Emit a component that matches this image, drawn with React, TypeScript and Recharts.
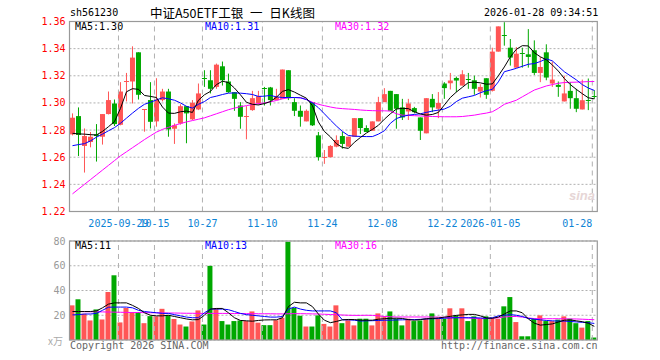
import React from 'react';
import { ComposedChart, Bar, Line, XAxis, YAxis, CartesianGrid, ReferenceLine, Cell } from 'recharts';

const dates = [
  '2025-09-17','2025-09-18','2025-09-19','2025-09-22','2025-09-23','2025-09-24','2025-09-25','2025-09-26','2025-09-29','2025-09-30',
  '2025-10-09','2025-10-10','2025-10-13','2025-10-14','2025-10-15','2025-10-16','2025-10-17','2025-10-20','2025-10-21','2025-10-22',
  '2025-10-23','2025-10-24','2025-10-27','2025-10-28','2025-10-29','2025-10-30','2025-10-31','2025-11-03','2025-11-04','2025-11-05',
  '2025-11-06','2025-11-07','2025-11-10','2025-11-11','2025-11-12','2025-11-13','2025-11-14','2025-11-17','2025-11-18','2025-11-19',
  '2025-11-20','2025-11-21','2025-11-24','2025-11-25','2025-11-26','2025-11-27','2025-11-28','2025-12-01','2025-12-02','2025-12-03',
  '2025-12-04','2025-12-05','2025-12-08','2025-12-09','2025-12-10','2025-12-11','2025-12-12','2025-12-15','2025-12-16','2025-12-17',
  '2025-12-18','2025-12-19','2025-12-22','2025-12-23','2025-12-24','2025-12-25','2025-12-26','2025-12-29','2025-12-30','2025-12-31',
  '2026-01-05','2026-01-06','2026-01-07','2026-01-08','2026-01-09','2026-01-12','2026-01-13','2026-01-14','2026-01-15','2026-01-16',
  '2026-01-19','2026-01-20','2026-01-21','2026-01-22','2026-01-23','2026-01-26','2026-01-27','2026-01-28'
];

const openP = [
  1.2768,1.2903,1.2683,1.2712,1.2768,1.2751,1.2918,1.2996,1.2839,1.3153,
  1.3158,1.3373,1.2948,1.3021,1.2864,1.3021,1.3084,1.2810,1.2849,1.2976,
  1.2879,1.2952,1.3182,1.3167,1.3118,1.3270,1.3158,1.3079,1.2981,1.2898,
  1.2947,1.2996,1.3111,1.3114,1.3021,1.3030,1.3241,1.3006,1.2942,1.2864,
  1.3006,1.2761,1.2598,1.2600,1.2678,1.2756,1.2678,1.2751,1.2888,1.2815,
  1.2795,1.2864,1.3006,1.3089,1.3065,1.2967,1.2937,1.2962,1.2893,1.2776,
  1.3030,1.2957,1.3143,1.3145,1.3184,1.3128,1.3180,1.3167,1.3084,1.3182,
  1.3089,1.3378,1.3497,1.3407,1.3260,1.3370,1.3358,1.3388,1.3221,1.3373,
  1.3143,1.3133,1.3011,1.3089,1.3035,1.2952,1.3025,1.3050
];
const highP = [
  1.2923,1.2967,1.2812,1.2786,1.2844,1.2918,1.3084,1.3025,1.3153,1.3221,
  1.3417,1.3373,1.2955,1.3153,1.3182,1.3104,1.3104,1.2849,1.2990,1.2976,
  1.3021,1.3143,1.3241,1.3241,1.3290,1.3305,1.3216,1.3079,1.3006,1.2976,
  1.3089,1.3089,1.3118,1.3118,1.3104,1.3246,1.3241,1.3035,1.2981,1.2952,
  1.3006,1.2786,1.2653,1.2690,1.2761,1.2786,1.2751,1.2888,1.2888,1.2835,
  1.2864,1.3045,1.3109,1.3089,1.3065,1.3030,1.3030,1.2971,1.2893,1.3035,
  1.3065,1.3080,1.3153,1.3221,1.3194,1.3241,1.3221,1.3201,1.3138,1.3182,
  1.3407,1.3564,1.3595,1.3471,1.3412,1.3407,1.3544,1.3461,1.3339,1.3432,
  1.3305,1.3158,1.3201,1.3153,1.3104,1.3172,1.3180,1.3094
];
const lowP = [
  1.2761,1.2609,1.2487,1.2673,1.2568,1.2693,1.2915,1.2830,1.2835,1.3011,
  1.2996,1.3025,1.2788,1.2812,1.2825,1.3011,1.2751,1.2698,1.2840,1.2703,
  1.2874,1.2947,1.3118,1.3070,1.3104,1.3128,1.3074,1.2942,1.2810,1.2732,
  1.2942,1.2986,1.2981,1.2981,1.3021,1.3030,1.3021,1.2903,1.2825,1.2864,
  1.2830,1.2575,1.2551,1.2600,1.2673,1.2663,1.2678,1.2751,1.2771,1.2786,
  1.2795,1.2864,1.3006,1.2940,1.2810,1.2874,1.2874,1.2923,1.2727,1.2776,
  1.2932,1.2888,1.3030,1.3099,1.3079,1.3128,1.3104,1.3060,1.3040,1.3030,
  1.3084,1.3378,1.3422,1.3275,1.3260,1.3260,1.3260,1.3206,1.3153,1.3167,
  1.3118,1.3045,1.3011,1.2957,1.2932,1.2952,1.2947,1.3030
];
const closeP = [
  1.2891,1.2764,1.2756,1.2751,1.2756,1.2918,1.3021,1.2844,1.3084,1.3158,
  1.3334,1.3060,1.2952,1.2861,1.3025,1.3084,1.2805,1.2835,1.2976,1.2923,
  1.3001,1.3070,1.3177,1.3104,1.3282,1.3167,1.3079,1.3030,1.2898,1.2903,
  1.3035,1.3050,1.3106,1.3021,1.3045,1.3246,1.3035,1.2942,1.2898,1.2942,
  1.2835,1.2600,1.2600,1.2683,1.2727,1.2698,1.2751,1.2888,1.2815,1.2786,
  1.2864,1.3006,1.3065,1.2942,1.2957,1.2893,1.2996,1.2932,1.2795,1.3035,
  1.2967,1.3000,1.3109,1.3165,1.3165,1.3211,1.3175,1.3104,1.3118,1.3060,
  1.3378,1.3564,1.3492,1.3334,1.3363,1.3368,1.3339,1.3221,1.3265,1.3187,
  1.3172,1.3118,1.3070,1.3035,1.2957,1.3020,1.3018,1.3045
];

const ma5 = [
  1.2776,1.2772,1.2770,1.2766,1.2764,1.2790,1.2825,1.2862,1.2960,1.3082,
  1.3105,1.3100,1.3055,1.3048,1.3040,1.2970,1.2925,1.2923,1.2935,1.2940,
  1.2930,1.3020,1.3060,1.3085,1.3135,1.3160,1.3150,1.3110,1.3060,1.3005,
  1.2990,1.2985,1.2995,1.3010,1.3042,1.3085,1.3098,1.3080,1.3057,1.3035,
  1.2980,1.2860,1.2790,1.2750,1.2700,1.2672,1.2665,1.2710,1.2745,1.2778,
  1.2805,1.2835,1.2880,1.2920,1.2955,1.2960,1.2958,1.2935,1.2918,1.2910,
  1.2915,1.2930,1.2985,1.3040,1.3080,1.3115,1.3150,1.3153,1.3148,1.3138,
  1.3140,1.3200,1.3265,1.3339,1.3395,1.3422,1.3420,1.3370,1.3340,1.3318,
  1.3280,1.3235,1.3180,1.3135,1.3100,1.3068,1.3038,1.3030
];
const ma10 = [
  1.2685,1.2693,1.2700,1.2720,1.2748,1.2770,1.2795,1.2818,1.2850,1.2888,
  1.2925,1.2960,1.2990,1.3005,1.3022,1.3038,1.3030,1.3020,1.3000,1.2975,
  1.2962,1.2990,1.3010,1.3040,1.3050,1.3062,1.3072,1.3074,1.3072,1.3068,
  1.3062,1.3048,1.3050,1.3055,1.3045,1.3040,1.3040,1.3040,1.3038,1.3025,
  1.3000,1.2965,1.2920,1.2874,1.2830,1.2790,1.2760,1.2755,1.2753,1.2752,
  1.2752,1.2770,1.2795,1.2850,1.2885,1.2900,1.2910,1.2915,1.2920,1.2930,
  1.2940,1.2947,1.2955,1.2975,1.3010,1.3035,1.3045,1.3055,1.3075,1.3090,
  1.3100,1.3155,1.3230,1.3242,1.3255,1.3270,1.3285,1.3290,1.3305,1.3325,
  1.3310,1.3270,1.3230,1.3200,1.3170,1.3135,1.3110,1.3092
];
const ma30 = [
  1.2330,1.2365,1.2400,1.2435,1.2470,1.2505,1.2540,1.2575,1.2610,1.2640,
  1.2670,1.2700,1.2730,1.2758,1.2785,1.2805,1.2820,1.2835,1.2848,1.2860,
  1.2870,1.2880,1.2890,1.2905,1.2920,1.2935,1.2950,1.2962,1.2972,1.2980,
  1.2988,1.2995,1.3000,1.3008,1.3018,1.3030,1.3038,1.3040,1.3038,1.3025,
  1.3005,1.2990,1.2980,1.2970,1.2962,1.2958,1.2955,1.2952,1.2948,1.2945,
  1.2943,1.2942,1.2942,1.2940,1.2920,1.2910,1.2908,1.2906,1.2904,1.2902,
  1.2900,1.2899,1.2898,1.2898,1.2898,1.2900,1.2905,1.2910,1.2918,1.2925,
  1.2935,1.2960,1.2990,1.3005,1.3020,1.3045,1.3070,1.3095,1.3110,1.3125,
  1.3135,1.3145,1.3150,1.3152,1.3153,1.3155,1.3157,1.3158
];

const volume = [
  28.0,32.9,21.2,15.8,24.7,16.6,38.8,52.3,14.2,25.8,
  22.5,22.5,13.6,19.3,19.1,25.2,20.0,17.0,12.5,10.9,
  15.0,23.9,12.5,59.9,25.5,15.3,12.5,15.3,15.8,15.3,
  23.1,14.0,12.0,12.0,16.0,18.0,79.4,26.0,19.6,10.9,
  10.9,19.9,13.0,10.9,28.0,13.6,16.0,11.8,17.2,17.2,
  11.8,21.5,19.1,23.1,17.2,11.8,17.2,15.3,15.8,17.2,
  21.5,17.2,17.2,25.6,19.9,25.6,15.3,19.1,17.2,19.1,
  17.2,17.2,27.2,34.7,14.5,3.0,3.0,17.2,19.9,15.3,
  15.3,16.5,19.1,17.2,13.6,10.0,15.3,2.0
];
const volMa5 = [
  23,23,23,23,23.5,26,29,30,30,30,
  28,25.5,22,20,19.5,19.5,20,19,18,17,
  16.3,16.5,20,25,25.5,25.5,22,18,15.8,15.5,
  15.2,15.8,16.2,16.3,16.3,18,27,30.5,30,30,
  27,21,16,14,15,16.3,16.6,16.5,16,16,
  16,16.8,17.2,17.5,17.6,17.4,16.5,16,16.5,17.2,
  17.4,17.8,18.5,19.1,19.9,20.3,20.7,20.7,19.5,17.8,
  17.5,18.5,21,23.5,23.5,22,17,13.6,12,12.5,
  13,14.5,16,16.2,15.5,14.8,13.6,11
];
const volMa10 = [
  20.3,20.5,21,21,21.5,24,26.5,26.6,26.6,26.6,
  26,24,23,22.5,22,21.5,21.5,20.5,19.5,18.5,
  18,18,22,25,25,25,24.5,23,21.5,20.5,
  20,19.5,19,18.5,18.5,19,25,26.6,25,24,
  23.5,23.5,23.5,23.5,22,16.3,16.3,16,15.3,15.5,
  15.6,15.8,16,16,16.2,16.3,16.5,16.5,16.7,17,
  17.2,17.3,17.6,17.8,18,18,18,18,17.8,17.5,
  18,19.5,20,20.5,20,19,17.5,16.8,16.3,15.8,
  15.5,15.3,15.3,15,14.6,14.3,14,13.4
];
const volMa30 = [
  23.0,23.0,22.9,22.8,22.8,22.7,22.6,22.5,22.4,22.3,
  22.2,22.2,22.1,22.0,22.0,21.9,21.8,21.8,21.7,21.6,
  21.6,21.5,21.5,21.5,21.5,21.5,21.5,21.4,21.4,21.3,
  21.3,21.2,21.2,21.2,21.1,21.1,21.2,21.3,21.3,21.2,
  21.1,21.0,20.8,20.6,20.4,20.2,20.0,19.9,19.9,20.0,
  19.9,19.5,19.0,18.8,18.6,18.6,18.6,18.6,18.6,18.6,
  18.6,18.5,18.3,18.2,18.1,18.0,17.8,17.5,17.3,17.3,
  17.5,18.0,18.6,19.0,19.0,18.5,17.8,17.3,17.2,17.2,
  17.2,17.2,17.1,17.0,17.0,16.8,16.6,16.4
];

const tickDates = ['2025-09-29','2025-10-15','2025-10-27','2025-11-10','2025-11-24','2025-12-08','2025-12-22','2026-01-05','2026-01-28'];
const tickLabels = ['2025-09-29','10-15','10-27','11-10','11-24','12-08','12-22','2026-01-05','01-28'];
const priceTicks = [1.22, 1.24, 1.26, 1.28, 1.30, 1.32, 1.34, 1.36];
const volTicks = [20, 40, 60, 80];

const RED = '#ff5555';
const GREEN = '#00a800';
const MONO = '"DejaVu Sans Mono", "Liberation Mono", monospace';
const GRID = '#b0b0b0';
const FRAME = '#999999';

const priceData = dates.map((d, i) => ({
  d, o: openP[i], h: highP[i], l: lowP[i], c: closeP[i],
  hl: [lowP[i], highP[i]], ma5: ma5[i], ma10: ma10[i], ma30: ma30[i],
}));
const volData = dates.map((d, i) => ({
  d, v: volume[i], up: closeP[i] >= openP[i], m5: volMa5[i], m10: volMa10[i], m30: volMa30[i],
}));

const Candle = (props: any) => {
  const { x, y, width, height, payload } = props;
  if (!payload) return null;
  const { o, h, l, c } = payload;
  const up = c >= o;
  const color = up ? RED : GREEN;
  const hgt = Math.abs(height);
  const top = Math.min(y, y + height);
  const range = h - l;
  const py = (p: number) => (range > 0 ? top + ((h - p) / range) * hgt : top);
  const cx = x + width / 2;
  const bt = py(Math.max(o, c));
  const bb = py(Math.min(o, c));
  const bw = 5;
  return (
    <g>
      <line x1={cx} x2={cx} y1={py(h)} y2={py(l)} stroke={color} strokeWidth={1} />
      {bb - bt < 1.2 ? (
        <line x1={cx - bw / 2} x2={cx + bw / 2} y1={Math.round(bt) + 0.5} y2={Math.round(bt) + 0.5} stroke={color} strokeWidth={1} />
      ) : (
        <rect x={cx - bw / 2} y={bt} width={bw} height={bb - bt} fill={color} />
      )}
    </g>
  );
};

const DateTick = (props: any) => {
  const { x, y, payload } = props;
  const idx = tickDates.indexOf(payload.value);
  if (idx < 0) return null;
  const last = idx === tickDates.length - 1;
  return (
    <text x={x - 2} y={y + 13} textAnchor={last ? 'end' : 'middle'} fill="#0d84d6" fontSize={10} fontFamily={MONO}>
      {tickLabels[idx]}
    </text>
  );
};

const vShape = (p: any) => (
  <line x1={p.x1 - 2} x2={p.x2 - 2} y1={p.y1} y2={p.y2} stroke={GRID} strokeWidth={1} strokeDasharray="5 4" />
);

const txt = (extra: React.CSSProperties): React.CSSProperties => ({
  position: 'absolute', fontFamily: MONO, fontSize: 10, lineHeight: '12px', whiteSpace: 'pre', ...extra,
});

export default function App() {
  return (
    <div style={{ position: 'absolute', left: 0, top: 0, width: 660, height: 360, background: '#fff', overflow: 'hidden' }}>
      <ComposedChart
        width={660}
        height={360}
        data={priceData}
        margin={{ top: 21.5, right: 62.7, bottom: 128.5, left: 9.5 }}
        barCategoryGap={0}
        style={{ position: 'absolute', left: 0, top: 0 }}
      >
        <CartesianGrid vertical={false} stroke={GRID} strokeDasharray="2 2" />
        <XAxis dataKey="d" ticks={tickDates} interval={0} tick={<DateTick />} tickLine={false} axisLine={false} height={20} tickSize={0} />
        <YAxis
          domain={[1.22, 1.36]}
          ticks={priceTicks}
          allowDataOverflow
          width={60}
          tickSize={0}
          tickMargin={4}
          axisLine={false}
          tickLine={false}
          tick={{ fill: '#ff0000', fontSize: 10, fontFamily: MONO }}
          tickFormatter={(v: number) => v.toFixed(2)}
        />
        {tickDates.map((t) => (
          <ReferenceLine key={t} x={t} stroke={GRID} strokeDasharray="5 4" shape={vShape} />
        ))}
        <Bar dataKey="hl" shape={<Candle />} isAnimationActive={false} />
        <Line type="linear" dataKey="ma30" stroke="#ff00ff" strokeWidth={1} dot={false} isAnimationActive={false} />
        <Line type="linear" dataKey="ma10" stroke="#0000ff" strokeWidth={1} dot={false} isAnimationActive={false} />
        <Line type="linear" dataKey="ma5" stroke="#000000" strokeWidth={1} dot={false} isAnimationActive={false} />
      </ComposedChart>

      <ComposedChart
        width={660}
        height={360}
        data={volData}
        margin={{ top: 241, right: 62.7, bottom: 20, left: 9.5 }}
        barCategoryGap={0}
        style={{ position: 'absolute', left: 0, top: 0 }}
      >
        <CartesianGrid vertical={false} stroke={GRID} strokeDasharray="2 2" />
        <XAxis dataKey="d" hide />
        <YAxis
          domain={[0, 80]}
          ticks={volTicks}
          allowDataOverflow
          width={60}
          tickSize={0}
          tickMargin={4}
          axisLine={false}
          tickLine={false}
          tick={{ fill: '#999999', fontSize: 10, fontFamily: MONO }}
        />
        {tickDates.map((t) => (
          <ReferenceLine key={t} x={t} stroke={GRID} strokeDasharray="5 4" shape={vShape} />
        ))}
        <Bar dataKey="v" barSize={5} isAnimationActive={false}>
          {volData.map((e, i) => (
            <Cell key={i} fill={e.up ? RED : GREEN} />
          ))}
        </Bar>
        <Line type="linear" dataKey="m30" stroke="#ff00ff" strokeWidth={1} dot={false} isAnimationActive={false} />
        <Line type="linear" dataKey="m10" stroke="#0000ff" strokeWidth={1} dot={false} isAnimationActive={false} />
        <Line type="linear" dataKey="m5" stroke="#000000" strokeWidth={1} dot={false} isAnimationActive={false} />
      </ComposedChart>

      <svg width={660} height={360} style={{ position: 'absolute', left: 0, top: 0, pointerEvents: 'none' }}>
        <rect x={69.5} y={21.5} width={527.8} height={190} fill="none" stroke={FRAME} strokeWidth={1.2} />
        <rect x={69.5} y={241} width={527.8} height={99} fill="none" stroke={FRAME} strokeWidth={1.2} />
        <text x={582} y={200} textAnchor="middle" fontSize={13} fontWeight="bold" fontStyle="italic" fill="#e6d6d6" fontFamily="Arial, sans-serif">sina</text>
      </svg>

      <div style={txt({ left: 70, top: 7, color: '#000' })}>sh561230</div>
      <div style={txt({ left: 150, top: 6, fontSize: 12.5, lineHeight: '14px', wordSpacing: 4, fontFamily: '"Noto Sans CJK SC", sans-serif', color: '#000' })}>中证A50ETF工银 一 日K线图</div>
      <div style={txt({ left: 484, top: 7, color: '#000' })}>2026-01-28 09:34:51</div>

      <div style={txt({ left: 75, top: 21, color: '#000' })}>MA5:1.30</div>
      <div style={txt({ left: 205, top: 21, color: '#0000ff' })}>MA10:1.31</div>
      <div style={txt({ left: 335, top: 21, color: '#ff00ff' })}>MA30:1.32</div>

      <div style={txt({ left: 75, top: 240, color: '#000' })}>MA5:11</div>
      <div style={txt({ left: 205, top: 240, color: '#0000ff' })}>MA10:13</div>
      <div style={txt({ left: 335, top: 240, color: '#ff00ff' })}>MA30:16</div>

      <div style={txt({ left: 48, top: 335, color: '#aaaaaa', fontFamily: '"Noto Sans CJK SC", sans-serif' })}>x万</div>
      <div style={txt({ left: 70, top: 340, color: '#666666' })}>Copyright 2026 SINA.COM</div>
      <div style={txt({ left: 441, top: 340, color: '#666666' })}>http://finance.sina.com.cn</div>
    </div>
  );
}
